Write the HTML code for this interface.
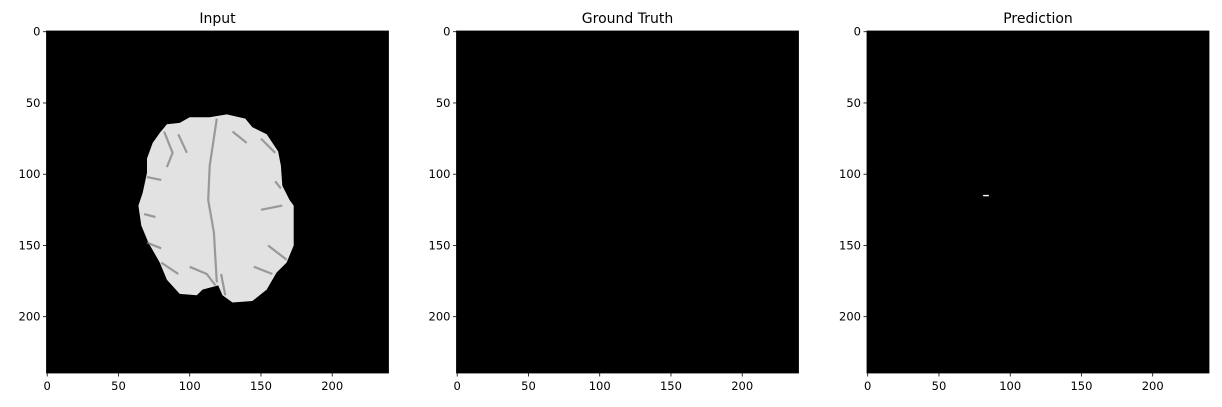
<!DOCTYPE html>
<html><head><meta charset="utf-8"><style>
html,body{margin:0;padding:0;background:#fff;}
svg{display:block;font-family:"DejaVu Sans","Liberation Sans",sans-serif;}
</style></head><body>
<svg id="fig" width="1222" height="407" viewBox="0 0 1222 407"></svg>
<script>
const titles = ["Input", "Ground Truth", "Prediction"];
const tickValues = [0, 50, 100, 150, 200];
const tickLabels = ["0", "50", "100", "150", "200"];
const imageSize = [240];
const predX = [81, 85];
const predY = [115];
// brain outline in data (image pixel) coordinates
const brainX = [79,84,93,100,114,126,139,144,154,162,164,165,170,173,173,168,161,154,144,130,123,120,109,105,93,84,79,71,66,64,67,70,70,74];
const brainY = [71,65,64,60,60,58,61,67,72,84,94,108,118,122,150,162,169,181,189,190,185,178,181,185,184,174,162,148,136,122,113,99,89,78];

const NS = "http://www.w3.org/2000/svg";
const svg = document.getElementById("fig");
const offsets = [46.5, 456.5, 867];
const top0 = 31, size = 342;
function mk(tag, attrs, parent){const e=document.createElementNS(NS,tag);for(const k in attrs)e.setAttribute(k,attrs[k]);(parent||svg).appendChild(e);return e;}

titles.forEach((t, i) => {
  const L = offsets[i];
  const sx = v => L + (v + 0.5) * size / imageSize[0];
  const sy = v => top0 + (v + 0.5) * size / imageSize[0];
  const g = mk("g", {});
  
  
  const bg = mk("rect", {x:L, y:top0, width:size, height:size, fill:"#000"}, g);
  
  
  const tt = mk("text", {x:L+size/2, y:23, "font-size":"14", "text-anchor":"middle", fill:"#000"}, g);
  tt.textContent = t;
  
  
  if (i === 0) {
    let d = "";
    brainX.forEach((x, k) => { d += (k ? "L" : "M") + sx(x).toFixed(1) + " " + sy(brainY[k]).toFixed(1); });
    const b = mk("path", {d: d + "Z", fill: "#e2e2e2"}, g);
    
    
    const sulci = [
      [[119,61],[114,94],[113,118],[117,141],[119,176]],
      [[82,70],[88,85],[84,95]],[[70,102],[80,104]],[[68,128],[76,130]],[[70,148],[80,152]],[[80,162],[92,170]],
      [[100,165],[112,170],[118,178]],[[92,72],[98,85]],
      [[150,75],[160,85]],[[160,105],[164,110]],[[150,125],[165,122]],[[155,150],[168,160]],[[145,165],[158,170]],
      [[130,70],[140,78]],[[122,170],[125,185]]
    ];
    sulci.forEach(s => {
      let dd = "";
      s.forEach((p, k) => { dd += (k ? "L" : "M") + sx(p[0]).toFixed(1) + " " + sy(p[1]).toFixed(1); });
      const p = mk("path", {d: dd, stroke: "#7a7a7a", "stroke-width": 2.2, fill: "none", opacity: 0.7}, g);
      
      
    });
  }
  if (i === 2) {
    const m = mk("rect", {x: sx(predX[0]), y: sy(predY[0]) - 0.7, width: sx(predX[1]) - sx(predX[0]), height: 1.4, fill: "#fff"}, g);
    
    
  }
  const frame = mk("rect", {x:L, y:top0, width:size, height:size, fill:"none", stroke:"#000", "stroke-width":0.8}, g);
  
  
  tickValues.forEach((v, k) => {
    const x = sx(v), y = sy(v);
    mk("line", {x1:x, x2:x, y1:top0+size, y2:top0+size+3.5, stroke:"#000", "stroke-width":0.8}, g);
    const xl = mk("text", {x:x, y:top0+size+17, "font-size":"11.5", "text-anchor":"middle", fill:"#000"}, g);
    xl.textContent = tickLabels[k];
    
    
    mk("line", {x1:L-3.5, x2:L, y1:y, y2:y, stroke:"#000", "stroke-width":0.8}, g);
    const yl = mk("text", {x:L-6, y:y+4, "font-size":"11.5", "text-anchor":"end", fill:"#000"}, g);
    yl.textContent = tickLabels[k];
    
    
  });
});
</script>
</body></html>
